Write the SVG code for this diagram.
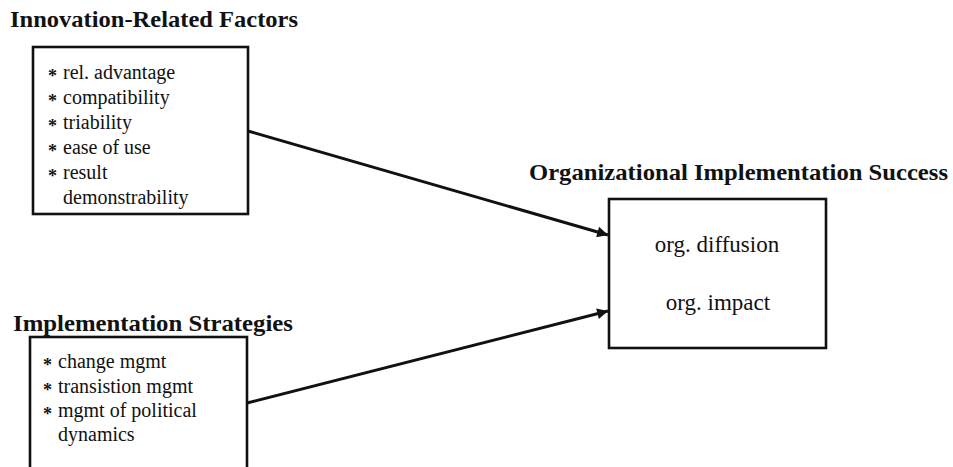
<svg xmlns="http://www.w3.org/2000/svg" width="953" height="467" viewBox="0 0 953 467">
  <style>
    .title { font-family: "Liberation Serif", "Times New Roman", serif; font-weight: bold; font-size: 23px; fill: #111; }
    .item { font-family: "Liberation Serif", "Times New Roman", serif; font-size: 20px; fill: #111; }
    .bullet { font-family: "Liberation Serif", "Times New Roman", serif; font-weight: bold; font-size: 18px; fill: #111; }
    .outcome { font-family: "Liberation Serif", "Times New Roman", serif; font-size: 23px; fill: #111; text-anchor: middle; }
    .box { fill: #fff; stroke: #111; stroke-width: 2.6; }
    .link { fill: none; stroke: #111; stroke-width: 3; }
  </style>
  <defs>
    <marker id="arrowhead" viewBox="0 0 10 10" refX="10" refY="5" markerWidth="4.2" markerHeight="3.6" orient="auto" markerUnits="strokeWidth">
      <path d="M0,0 L10,5 L0,10 z" fill="#111"/>
    </marker>
  </defs>
  <rect width="953" height="467" fill="#fff"/>

  <!-- Innovation-related factors -->
  <g id="innovation-factors">
    <text class="title" x="10" y="27" textLength="288" lengthAdjust="spacingAndGlyphs">Innovation-Related Factors</text>
    <rect class="box" x="33" y="47" width="215" height="167"/>
    <text class="bullet" x="48" y="82">*</text>
    <text class="item" x="63" y="79">rel. advantage</text>
    <text class="bullet" x="48" y="107">*</text>
    <text class="item" x="63" y="104">compatibility</text>
    <text class="bullet" x="48" y="132">*</text>
    <text class="item" x="63" y="129">triability</text>
    <text class="bullet" x="48" y="157">*</text>
    <text class="item" x="63" y="154">ease of use</text>
    <text class="bullet" x="48" y="182">*</text>
    <text class="item" x="63" y="179">result</text>
    <text class="item" x="63" y="204">demonstrability</text>
  </g>

  <!-- Implementation strategies -->
  <g id="implementation-strategies">
    <text class="title" x="13" y="331" textLength="280" lengthAdjust="spacingAndGlyphs">Implementation Strategies</text>
    <rect class="box" x="30" y="337" width="217" height="145"/>
    <text class="bullet" x="43" y="371">*</text>
    <text class="item" x="58" y="368">change mgmt</text>
    <text class="bullet" x="43" y="396">*</text>
    <text class="item" x="58" y="393">transistion mgmt</text>
    <text class="bullet" x="43" y="420">*</text>
    <text class="item" x="58" y="417">mgmt of political</text>
    <text class="item" x="58" y="441">dynamics</text>
  </g>

  <!-- Organizational implementation success -->
  <g id="implementation-success">
    <text class="title" x="529" y="180" textLength="419" lengthAdjust="spacingAndGlyphs">Organizational Implementation Success</text>
    <rect class="box" x="609" y="199" width="217" height="149"/>
    <text class="outcome" x="717" y="252">org. diffusion</text>
    <text class="outcome" x="718" y="310">org. impact</text>
  </g>

  <!-- Connectors -->
  <g id="connectors">
    <line class="link" x1="248" y1="131" x2="608" y2="235" marker-end="url(#arrowhead)"/>
    <line class="link" x1="247" y1="403" x2="608" y2="311" marker-end="url(#arrowhead)"/>
  </g>
</svg>
